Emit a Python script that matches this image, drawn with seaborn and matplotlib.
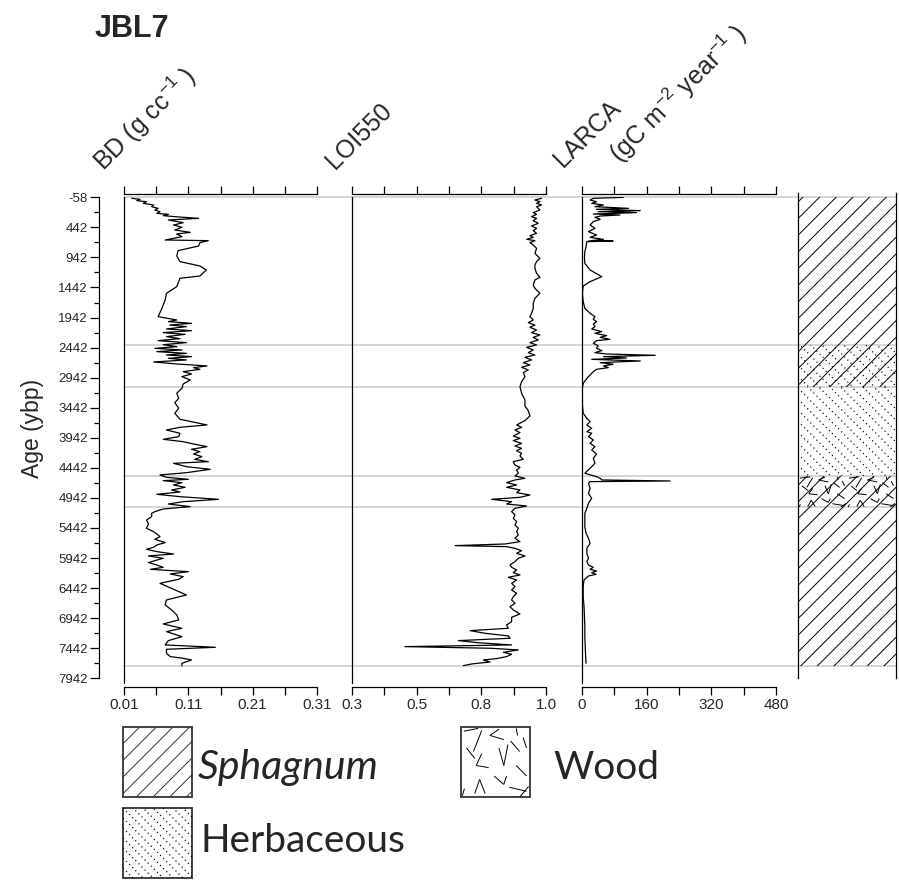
import numpy as np
import matplotlib
matplotlib.use("Agg")
import matplotlib.pyplot as plt
import seaborn as sns
from matplotlib.patches import Rectangle
from matplotlib.collections import LineCollection
from matplotlib.transforms import IdentityTransform

sns.set_theme(style="white")
plt.rcParams['font.family'] = ['Liberation Sans', 'DejaVu Sans']
plt.rcParams['mathtext.fontset'] = 'custom'
plt.rcParams['mathtext.rm'] = 'Liberation Sans'
plt.rcParams['hatch.linewidth'] = 0.7

# ── data (age in ybp) ───────────────────────────────────────
bd_age = [-41, -24, -2, 15, 42, 70, 98, 126, 153, 181,
          209, 225, 247, 264, 292, 319, 364, 403, 441, 486,
          525, 552, 597, 652, 663, 696, 752, 829, 918, 1012,
          1084, 1151, 1251, 1289, 1428, 1539, 1650, 1788, 1927, 1982,
          2010, 2038, 2066, 2093, 2132, 2160, 2193, 2221, 2260, 2293,
          2326, 2359, 2393, 2426, 2454, 2481, 2509, 2537, 2564, 2592,
          2620, 2647, 2681, 2714, 2747, 2775, 2803, 2842, 2880, 2925,
          2980, 3047, 3118, 3202, 3285, 3357, 3451, 3534, 3634, 3728,
          3767, 3812, 3867, 3923, 3967, 4006, 4045, 4089, 4133, 4172,
          4211, 4255, 4300, 4339, 4366, 4422, 4466, 4522, 4560, 4599,
          4632, 4655, 4688, 4727, 4765, 4810, 4843, 4882, 4921, 4965,
          5004, 5043, 5087, 5126, 5170, 5198, 5253, 5309, 5375, 5447,
          5503, 5541, 5586, 5630, 5685, 5724, 5763, 5796, 5835, 5874,
          5907, 5946, 5985, 6018, 6057, 6096, 6129, 6168, 6207, 6251,
          6295, 6362, 6462, 6556, 6639, 6722, 6805, 6888, 6971, 7038,
          7110, 7165, 7249, 7315, 7387, 7426, 7459, 7526, 7581, 7609,
          7637, 7692, 7736]
bd_val = [.022, .035, .030, .045, .040, .056, .053, .063, .058, .066,
          .061, .079, .071, .089, .126, .079, .102, .087, .100, .089,
          .113, .092, .100, .074, .141, .128, .126, .094, .092, .097,
          .128, .138, .128, .097, .092, .076, .074, .069, .063, .092,
          .079, .115, .081, .107, .076, .115, .071, .105, .076, .097,
          .063, .107, .071, .092, .058, .100, .061, .107, .076, .115,
          .079, .107, .056, .092, .139, .118, .128, .102, .115, .100,
          .113, .102, .100, .092, .095, .089, .095, .089, .097, .139,
          .097, .076, .097, .095, .071, .102, .118, .139, .115, .128,
          .118, .131, .120, .141, .087, .107, .144, .107, .066, .076,
          .110, .071, .100, .087, .105, .084, .097, .061, .097, .157,
          .102, .079, .113, .071, .058, .053, .053, .045, .048, .045,
          .056, .061, .066, .058, .074, .061, .056, .045, .061, .087,
          .048, .071, .058, .048, .061, .071, .051, .110, .082, .102,
          .095, .066, .087, .107, .076, .074, .084, .092, .095, .071,
          .100, .076, .100, .079, .074, .152, .076, .076, .082, .102,
          .115, .100, .100]

loi_age = [-41, -13, 15, 42, 70, 98, 153, 197, 225, 264,
           292, 330, 375, 419, 458, 497, 541, 580, 608, 641,
           663, 696, 735, 791, 874, 957, 1012, 1068, 1123, 1206,
           1273, 1317, 1400, 1456, 1539, 1622, 1705, 1788, 1871, 1927,
           1982, 2027, 2066, 2104, 2149, 2193, 2232, 2271, 2315, 2359,
           2398, 2437, 2481, 2526, 2564, 2603, 2647, 2692, 2730, 2769,
           2814, 2858, 2925, 3008, 3091, 3202, 3313, 3413, 3490, 3579,
           3656, 3728, 3767, 3812, 3856, 3912, 3951, 3989, 4034, 4078,
           4117, 4156, 4200, 4244, 4300, 4339, 4394, 4433, 4477, 4532,
           4577, 4616, 4643, 4688, 4727, 4765, 4810, 4854, 4893, 4932,
           4965, 5004, 5043, 5076, 5115, 5170, 5225, 5281, 5336, 5392,
           5447, 5503, 5558, 5613, 5669, 5708, 5735, 5752, 5780, 5819,
           5863, 5907, 5946, 6002, 6057, 6096, 6140, 6185, 6223, 6262,
           6306, 6362, 6417, 6473, 6528, 6584, 6639, 6694, 6750, 6805,
           6872, 6927, 6999, 7055, 7110, 7149, 7193, 7237, 7276, 7315,
           7348, 7387, 7415, 7442, 7470, 7509, 7542, 7581, 7614, 7637,
           7670, 7703, 7731]
loi_val = [.984, .960, .978, .966, .984, .966, .978, .954, .966, .948,
           .966, .954, .972, .948, .966, .954, .966, .942, .954, .930,
           .960, .942, .954, .966, .960, .978, .966, .960, .960, .966,
           .978, .960, .954, .960, .978, .960, .954, .954, .948, .942,
           .954, .936, .960, .942, .966, .948, .978, .954, .972, .942,
           .966, .930, .954, .936, .960, .924, .948, .918, .942, .912,
           .936, .918, .924, .912, .906, .912, .924, .924, .936, .942,
           .924, .894, .912, .888, .906, .882, .906, .882, .912, .888,
           .912, .894, .912, .906, .918, .882, .888, .906, .894, .900,
           .888, .924, .888, .858, .894, .858, .906, .894, .942, .906,
           .804, .876, .858, .930, .888, .876, .888, .882, .894, .888,
           .900, .894, .900, .888, .906, .852, .672, .858, .888, .912,
           .894, .924, .900, .888, .870, .876, .894, .882, .906, .864,
           .894, .876, .888, .876, .894, .882, .876, .888, .870, .882,
           .906, .876, .876, .858, .864, .726, .780, .864, .870, .684,
           .750, .876, .491, .798, .900, .846, .876, .858, .822, .774,
           .798, .732, .702]

larca_age = [-57, -41, -13, 15, 42, 70, 98, 126, 142, 164,
             181, 197, 220, 236, 253, 275, 308, 347, 403, 458,
             513, 569, 608, 641, 669, 669, 680, 763, 846, 929,
             1040, 1151, 1262, 1345, 1417, 1539, 1677, 1788, 1871, 1927,
             1971, 2010, 2049, 2093, 2132, 2176, 2204, 2243, 2271, 2304,
             2326, 2370, 2409, 2453, 2492, 2526, 2548, 2570, 2592, 2614,
             2637, 2664, 2692, 2719, 2747, 2775, 2803, 2842, 2897, 2953,
             3036, 3118, 3257, 3396, 3534, 3618, 3673, 3728, 3784, 3839,
             3867, 3923, 3978, 4034, 4089, 4145, 4211, 4283, 4366, 4449,
             4532, 4588, 4616, 4643, 4660, 4671, 4699, 4782, 4865, 4948,
             5031, 5115, 5198, 5309, 5420, 5530, 5613, 5697, 5780, 5863,
             5946, 6002, 6057, 6096, 6129, 6157, 6185, 6212, 6240, 6306,
             6417, 6584, 6750, 6916, 7082, 7249, 7415, 7581, 7692]
larca_val = [102, 28, 20, 36, 24, 53, 32, 115, 36, 144,
             40, 135, 28, 94, 45, 32, 45, 28, 20, 32,
             16, 36, 20, 53, 16, 77, 12, 10, 7, 6,
             7, 20, 49, 20, 3, 1, 3, 7, 20, 32,
             28, 36, 28, 32, 24, 49, 32, 61, 45, 69,
             36, 28, 40, 36, 49, 32, 61, 181, 53, 110,
             24, 144, 45, 77, 53, 65, 36, 28, 20, 12,
             3, 1, 1, 1, 3, 12, 20, 12, 24, 12,
             24, 16, 28, 20, 32, 24, 36, 28, 32, 20,
             7, 36, 45, 49, 218, 20, 16, 20, 16, 24,
             16, 12, 7, 7, 7, 10, 16, 20, 12, 12,
             16, 12, 16, 28, 20, 36, 24, 35, 16, 5,
             3, 3, 5, 6, 7, 7, 8, 9, 10]

litho_top = [-58, 2400, 3100, 4580, 5100]
litho_base = [2400, 3100, 4580, 5100, 7730]
litho_kind = ['Sphagnum', 'Sphagnum+Herbaceous', 'Herbaceous', 'Sphagnum+Wood', 'Sphagnum']
zone_lines = [-58, 2400, 3100, 4580, 5100, 7730]

age_ticks = np.arange(-58, 7943, 500)
age_minor = np.arange(192, 7943, 500)
bd_ticks = np.linspace(0.01, 0.31, 7)
bd_labels = ['0.01', '', '0.11', '', '0.21', '', '0.31']
loi_ticks = np.linspace(0.3, 1.0, 7)
loi_labels = ['0.3', '', '0.5', '', '0.8', '', '1.0']
larca_ticks = np.arange(0, 481, 80)
larca_labels = ['0', '', '160', '', '320', '', '480']

# short strokes used as the wood texture (unit cell, y downward)
WOOD = [(0.04, 0.06, 0.25, 0.02), (0.18, 0.35, 0.30, 0.05), (0.42, 0.12, 0.55, 0.03),
        (0.42, 0.12, 0.62, 0.18), (0.80, 0.02, 0.82, 0.12), (0.08, 0.30, 0.20, 0.45),
        (0.22, 0.55, 0.30, 0.38), (0.22, 0.55, 0.40, 0.58), (0.55, 0.30, 0.62, 0.55),
        (0.62, 0.55, 0.68, 0.25), (0.72, 0.20, 0.85, 0.35), (0.90, 0.15, 0.95, 0.30),
        (0.80, 0.55, 0.95, 0.70), (0.20, 0.95, 0.27, 0.75), (0.27, 0.75, 0.35, 0.95),
        (0.48, 0.70, 0.62, 0.82), (0.62, 0.82, 0.66, 0.70), (0.70, 0.86, 0.95, 0.92),
        (0.85, 1.00, 0.98, 0.85), (0.02, 0.98, 0.05, 0.88)]

W, H = 899, 888
fig = plt.figure(figsize=(W / 100, H / 100), dpi=100)


def add_box(x0, y0, x1, y1):
    # pixel box (y from top) -> figure axes
    return fig.add_axes([x0 / W, 1 - y1 / H, (x1 - x0) / W, (y1 - y0) / H])


def clipped_lines(ax, patch, segs, **kw):
    lc = LineCollection(segs, transform=IdentityTransform(), **kw)
    ax.add_collection(lc, autolim=False)
    lc.set_clip_path(patch.get_path(), patch.get_transform())
    lc.set_clip_box(None)


def herb_dots(ax, patch, spacing=11):
    bb = patch.get_window_extent()
    segs = [[(bb.x0, c - bb.x0), (bb.x1, c - bb.x1)]
            for c in np.arange(bb.x0 + bb.y0, bb.x1 + bb.y1 + spacing, spacing)]
    clipped_lines(ax, patch, segs, colors='black', linewidths=0.9,
                  linestyles=[(0, (0.9, 2.6))])


def wood_strokes(ax, patch, cw, ch):
    bb = patch.get_window_extent()
    segs = []
    x = bb.x0
    while x < bb.x1 - 1:
        y = bb.y1
        while y > bb.y0 + 1:
            for u0, v0, u1, v1 in WOOD:
                segs.append([(x + u0 * cw, y - v0 * ch), (x + u1 * cw, y - v1 * ch)])
            y -= ch
        x += cw
    clipped_lines(ax, patch, segs, colors='black', linewidths=0.7)


y_top, y_bot = 197.3, 683
ylim = (8020, -58)
panels = [
    (124, 317, bd_age, bd_val, (0.01, 0.31), bd_ticks, bd_labels),
    (352, 546, loi_age, loi_val, (0.3, 1.0), loi_ticks, loi_labels),
    (582, 776, larca_age, larca_val, (0, 480), larca_ticks, larca_labels),
]
axes = []
for x0, x1, age, val, xl, ticks, labels in panels:
    ax = add_box(x0, y_top, x1, y_bot)
    ax.set_facecolor('none')
    sns.lineplot(x=val, y=age, sort=False, estimator=None, color='black',
                 linewidth=0.9, ax=ax)
    ax.set_xlim(*xl)
    ax.set_ylim(*ylim)
    ax.set_xlabel('')
    ax.set_ylabel('')
    ax.set_xticks(ticks)
    ax.set_xticklabels(labels, fontsize=10.5)
    ax.xaxis.set_ticks_position('both')
    ax.tick_params(axis='x', which='both', top=True, bottom=True, labeltop=False,
                   labelbottom=True, direction='out', length=6, width=0.9,
                   color='black', pad=2)
    ax.spines['right'].set_visible(False)
    for s in ['top', 'bottom', 'left']:
        ax.spines[s].set_color('black')
        ax.spines[s].set_linewidth(0.9)
    ax.spines['top'].set_position(('outward', 2.4))
    ax.spines['bottom'].set_position(('outward', 2.9))
    ax.tick_params(axis='y', left=False, labelleft=False)
    ax.grid(False)
    axes.append(ax)

# age axis on the first panel
ax1 = axes[0]
ax1.spines['left'].set_position(('outward', 18))
ax1.spines['left'].set_bounds(-58, 7942)
ax1.set_yticks(age_ticks)
ax1.set_yticks(age_minor, minor=True)
ax1.set_yticklabels([str(t) for t in age_ticks], fontsize=9.5)
ax1.tick_params(axis='y', which='major', left=True, labelleft=True, direction='out',
                length=6.5, width=0.9, color='black', pad=1.5)
ax1.tick_params(axis='y', which='minor', left=True, direction='out',
                length=3.5, width=0.9, color='black')
ax1.axvline(0.01, color='black', lw=0.9, clip_on=False)

# grey zone lines across all panels
for b in zone_lines:
    ax1.axhline(b, xmin=0, xmax=(896 - 124) / 193, color='#d2d2d2', lw=1.3,
                clip_on=False, zorder=0)

# lithology column
lit = add_box(798, 193, 896, 678)
lit.set_facecolor('none')
lit.set_xlim(0, 1)
lit.set_ylim(-58 + (678 - y_top) * 16.63, -58 - (y_top - 193) * 16.63)
lit.set_xticks([])
lit.set_yticks([])
for s in ['top', 'bottom']:
    lit.spines[s].set_visible(False)
for s in ['left', 'right']:
    lit.spines[s].set_color('black')
    lit.spines[s].set_linewidth(0.9)
for top, base, kind in zip(litho_top, litho_base, litho_kind):
    rect = Rectangle((0, top), 1, base - top, facecolor='none', edgecolor='black',
                     lw=0, hatch='//' if 'Sphagnum' in kind else None)
    lit.add_patch(rect)
    if 'Herbaceous' in kind:
        herb_dots(lit, rect, spacing=11)
    if 'Wood' in kind:
        wood_strokes(lit, rect, 49, 32)

# header labels
fig.text(95 / W, 1 - 37 / H, 'JBL7', fontsize=22, fontweight='bold', ha='left', va='baseline')
head = dict(rotation=45, rotation_mode='anchor', ha='left', va='baseline', fontsize=18)
fig.text(104 / W, 1 - 172 / H, r'BD (g cc$^{-1}$ )', **head)
fig.text(335 / W, 1 - 170 / H, 'LOI550', **head)
fig.text(563 / W, 1 - 168 / H, 'LARCA', **head)
fig.text(620 / W, 1 - 164 / H, r'(gC m$^{-2}$ year$^{-1}$ )', **head)
fig.text(33 / W, 1 - 428 / H, 'Age (ybp)', rotation=90, fontsize=16.5, ha='center', va='center')

# legend
leg = fig.add_axes([0, 0, 1, 1])
leg.set_xlim(0, W)
leg.set_ylim(H, 0)
leg.axis('off')
leg.set_zorder(-1)
box_s = Rectangle((123, 727), 69, 70, facecolor='none', edgecolor='#333333', lw=1.3, hatch='//')
box_h = Rectangle((123, 808), 69, 70, facecolor='none', edgecolor='#333333', lw=1.3)
box_w = Rectangle((461, 727), 69, 70, facecolor='none', edgecolor='#333333', lw=1.3)
for bx in (box_s, box_h, box_w):
    leg.add_patch(bx)
herb_dots(leg, box_h, spacing=10)
wood_strokes(leg, box_w, 69, 70)
lfont = dict(family=['Lato', 'DejaVu Sans'], va='baseline', ha='left')
leg.text(198, 779, 'Sphagnum', style='italic', fontsize=29.5, **lfont)
leg.text(200, 852, 'Herbaceous', fontsize=28, **lfont)
leg.text(553, 779, 'Wood', fontsize=28, **lfont)

fig.savefig('out.png', dpi=100)
